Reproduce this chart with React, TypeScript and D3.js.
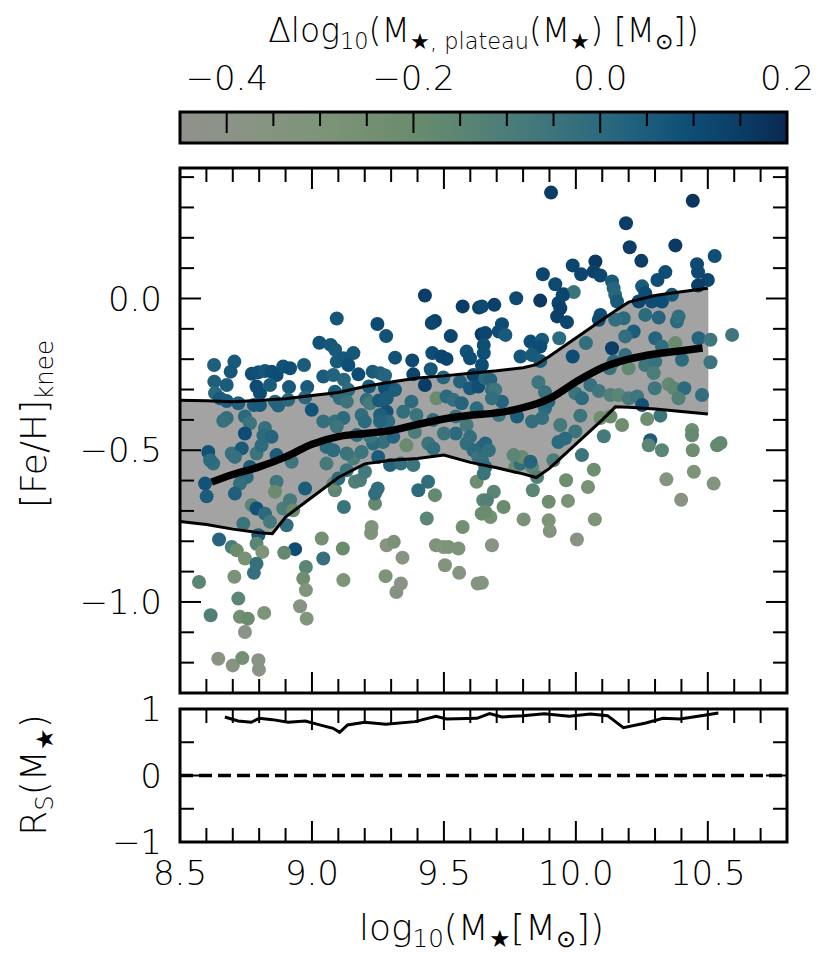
import React from 'react';
import * as d3 from 'd3';

// scatter: [log10 M*, [Fe/H]_knee, delta log10 M*,plateau]
const upperLeftPoints: [number, number, number][] = [
  [9.428, 0.01, 0.15], [9.571, -0.026, 0.15], [9.633, -0.03, 0.14], [9.094, -0.066, 0.07],
  [9.248, -0.084, 0.11], [9.281, -0.124, 0.08], [9.466, -0.074, 0.14], [9.454, -0.081, 0.12],
  [9.526, -0.124, 0.12], [9.643, -0.118, 0.16], [9.028, -0.146, 0.08], [9.071, -0.153, 0.07],
  [9.088, -0.169, 0.06], [9.157, -0.18, 0.07], [9.315, -0.195, 0.08], [9.38, -0.204, 0.11],
  [9.456, -0.18, 0.1], [9.491, -0.191, 0.12], [9.51, -0.199, 0.12], [9.586, -0.175, 0.08],
  [9.599, -0.197, 0.1], [8.706, -0.208, 0.06], [8.629, -0.219, 0.04], [8.692, -0.241, 0.07],
  [8.772, -0.248, 0.09], [8.797, -0.243, 0.08], [8.822, -0.239, 0.07], [8.847, -0.241, 0.09],
  [8.866, -0.252, 0.1], [8.891, -0.224, 0.08], [8.917, -0.23, 0.09], [8.97, -0.219, 0.05],
  [9.094, -0.208, 0.05], [9.119, -0.197, 0.07], [9.138, -0.219, 0.09], [9.176, -0.25, 0.1],
  [9.23, -0.241, 0.06], [9.258, -0.246, 0.04], [9.277, -0.254, 0.02], [9.384, -0.25, 0.12],
  [9.45, -0.233, 0.07], [9.498, -0.26, 0.02], [9.612, -0.252, 0.12], [8.63, -0.274, 0.04],
  [8.677, -0.285, 0.05], [8.79, -0.29, 0.1], [8.803, -0.312, 0.1], [8.841, -0.285, 0.05],
  [8.913, -0.292, 0.06], [8.982, -0.292, 0.06], [9.043, -0.257, 0.05], [9.081, -0.252, 0.03],
  [9.121, -0.268, 0.01], [9.216, -0.29, 0.06], [9.277, -0.296, 0.09], [9.308, -0.301, 0.1],
  [9.428, -0.285, 0.15], [9.561, -0.274, 0.03], [9.599, -0.296, 0.06], [9.63, -0.29, 0.09],
  [8.633, -0.312, 0.01], [8.652, -0.329, 0.06], [8.677, -0.338, 0.05], [8.721, -0.345, 0.04],
  [8.78, -0.351, 0.05], [8.803, -0.351, 0.06], [8.86, -0.34, 0.01], [8.872, -0.353, 0.03],
  [8.91, -0.334, 0.01], [8.974, -0.326, 0.01], [8.999, -0.367, 0.08], [9.087, -0.307, 0.05],
  [9.106, -0.329, -0.02], [9.138, -0.301, 0.0], [9.132, -0.34, -0.05], [9.207, -0.334, -0.02],
  [9.22, -0.345, -0.08], [9.254, -0.336, 0.06], [9.283, -0.329, 0.05], [9.315, -0.301, 0.05],
  [9.283, -0.373, 0.08], [9.258, -0.384, 0.04], [9.289, -0.405, 0.0], [9.377, -0.34, 0.0],
  [9.346, -0.373, -0.02], [9.472, -0.329, -0.2], [9.51, -0.323, 0.0], [9.536, -0.334, -0.02],
  [9.567, -0.345, 0.02], [9.624, -0.362, 0.0], [8.677, -0.394, -0.02], [8.664, -0.403, -0.03],
  [8.746, -0.389, 0.0], [8.765, -0.411, -0.05], [8.822, -0.427, -0.03], [9.043, -0.405, -0.02],
  [9.087, -0.405, -0.03], [9.119, -0.394, 0.0], [9.094, -0.422, -0.05], [9.188, -0.384, -0.02],
  [9.2, -0.405, 0.0], [9.258, -0.405, 0.02], [9.396, -0.384, -0.05], [9.459, -0.4, 0.0],
  [9.545, -0.389, -0.04], [9.586, -0.417, -0.08],
];

const upperRightPoints: [number, number, number][] = [
  [9.906, 0.349, 0.15], [10.443, 0.322, 0.17], [10.19, 0.248, 0.15], [10.204, 0.169, 0.15],
  [10.377, 0.175, 0.16], [10.526, 0.14, 0.09], [10.248, 0.124, 0.15], [10.459, 0.113, 0.11],
  [10.463, 0.087, 0.11], [10.5, 0.061, 0.12], [10.463, 0.043, 0.15], [9.988, 0.109, 0.12],
  [10.02, 0.08, 0.12], [10.074, 0.122, 0.16], [10.068, 0.089, 0.14], [10.093, 0.076, 0.12],
  [9.875, 0.08, 0.12], [9.922, 0.047, 0.11], [9.954, 0.014, 0.14], [9.992, 0.021, -0.05],
  [10.137, 0.056, 0.06], [10.143, 0.034, 0.02], [10.149, 0.012, 0.01], [10.156, -0.01, 0.06],
  [10.309, 0.061, 0.1], [10.339, 0.087, 0.1], [10.251, 0.04, 0.06], [10.238, -0.01, 0.12],
  [10.263, 0.017, 0.1], [10.288, -0.01, 0.1], [10.326, -0.01, 0.1], [10.364, 0.012, 0.06],
  [9.774, 0.001, 0.11], [9.691, -0.021, 0.14], [9.644, -0.026, 0.11], [9.865, -0.007, 0.16],
  [9.934, -0.015, 0.12], [9.95, 0.012, 0.12], [9.941, -0.032, 0.14], [9.929, -0.059, 0.14],
  [9.966, -0.078, 0.12], [10.093, -0.054, 0.09], [10.087, -0.07, 0.1], [10.181, -0.065, 0.0],
  [10.149, -0.07, -0.02], [10.263, -0.054, 0.0], [10.314, -0.063, 0.02], [10.383, -0.076, 0.0],
  [10.389, -0.059, -0.02], [9.72, -0.085, 0.1], [9.708, -0.109, 0.1], [9.733, -0.12, 0.06],
  [9.657, -0.114, 0.12], [9.651, -0.153, 0.09], [9.651, -0.18, 0.09], [9.644, -0.219, 0.1],
  [9.828, -0.142, 0.1], [9.847, -0.164, 0.09], [9.872, -0.136, 0.06], [9.865, -0.158, 0.1],
  [9.79, -0.191, 0.07], [9.834, -0.186, 0.06], [9.865, -0.206, 0.05], [9.937, -0.131, 0.0],
  [9.988, -0.191, 0.1], [10.038, -0.147, -0.02], [10.137, -0.164, 0.15], [10.219, -0.109, 0.05],
  [10.187, -0.125, -0.02], [10.301, -0.131, 0.02], [10.326, -0.158, -0.02], [10.377, -0.147, -0.2],
  [10.465, -0.131, 0.02], [10.51, -0.136, -0.06], [10.592, -0.12, -0.06], [10.187, -0.186, -0.02],
  [10.143, -0.208, 0.0], [10.128, -0.23, -0.04], [10.2, -0.23, -0.18], [10.263, -0.219, -0.06],
  [10.301, -0.208, -0.04], [10.295, -0.246, -0.1], [10.402, -0.202, 0.0], [10.51, -0.21, -0.05],
  [9.657, -0.263, 0.0], [9.676, -0.268, 0.02], [9.682, -0.301, -0.02], [9.695, -0.301, -0.06],
  [9.72, -0.34, 0.02], [9.858, -0.276, -0.06], [9.883, -0.309, -0.04], [9.998, -0.312, -0.05],
  [10.023, -0.329, 0.0], [10.055, -0.285, -0.03], [10.087, -0.305, -0.06], [10.131, -0.318, -0.12],
  [10.162, -0.318, -0.15], [10.2, -0.329, -0.08], [10.232, -0.323, -0.06], [10.299, -0.296, -0.06],
  [10.352, -0.283, -0.18], [10.371, -0.296, -0.16], [10.411, -0.296, 0.0], [10.478, -0.318, -0.02],
  [10.389, -0.329, -0.12], [10.251, -0.351, 0.08], [10.32, -0.386, -0.05], [10.017, -0.386, -0.05],
  [10.093, -0.394, -0.22], [10.131, -0.389, -0.2], [10.175, -0.417, -0.22], [10.27, -0.397, -0.22],
  [9.883, -0.362, 0.0], [9.896, -0.34, 0.02], [9.872, -0.394, -0.02], [9.777, -0.389, 0.05],
  [9.834, -0.405, -0.02], [9.941, -0.417, -0.08], [9.998, -0.438, -0.05], [9.682, -0.329, -0.02],
  [9.708, -0.384, -0.06], [10.44, -0.433, -0.22],
];

const lowerLeftPoints: [number, number, number][] = [
  [8.607, -0.506, 0.08], [8.626, -0.544, -0.02], [8.614, -0.533, 0.0], [8.595, -0.61, 0.08],
  [8.601, -0.652, 0.05], [8.696, -0.511, -0.03], [8.734, -0.494, 0.06], [8.708, -0.522, -0.03],
  [8.746, -0.445, 0.1], [8.816, -0.451, 0.0], [8.847, -0.456, 0.02], [8.79, -0.511, -0.05],
  [8.809, -0.484, 0.0], [8.866, -0.516, 0.05], [8.923, -0.538, -0.06], [8.765, -0.555, 0.05],
  [8.753, -0.588, 0.0], [8.727, -0.61, -0.02], [8.708, -0.643, 0.04], [8.866, -0.604, -0.06],
  [8.86, -0.637, -0.2], [8.772, -0.681, -0.15], [8.79, -0.692, 0.08], [8.822, -0.709, 0.0],
  [8.74, -0.742, -0.05], [8.841, -0.736, -0.08], [8.891, -0.692, -0.1], [8.917, -0.665, -0.08],
  [8.929, -0.698, -0.2], [8.904, -0.747, -0.02], [8.797, -0.78, 0.05], [8.79, -0.808, -0.15],
  [8.648, -0.794, 0.02], [8.696, -0.819, -0.1], [8.715, -0.83, -0.2], [8.746, -0.857, -0.27],
  [8.812, -0.835, -0.3], [8.79, -0.874, -0.03], [8.78, -0.904, -0.03], [8.936, -0.826, 0.1],
  [8.895, -0.838, -0.18], [8.977, -0.885, -0.15], [8.967, -0.923, -0.22], [8.977, -0.961, -0.32],
  [8.955, -1.014, -0.37], [8.98, -1.055, -0.32], [9.043, -0.857, -0.03], [9.037, -0.791, -0.25],
  [9.117, -0.824, -0.2], [9.119, -0.928, -0.3], [9.121, -0.687, -0.05], [8.974, -0.626, 0.05],
  [8.572, -0.934, -0.15], [8.616, -1.044, -0.12], [8.706, -0.917, -0.28], [8.721, -0.989, -0.15],
  [8.727, -1.049, -0.25], [8.757, -1.055, -0.2], [8.819, -1.036, -0.3], [8.746, -1.099, -0.4],
  [8.645, -1.187, -0.38], [8.7, -1.209, -0.38], [8.736, -1.185, -0.25], [8.797, -1.192, -0.38],
  [8.799, -1.223, -0.4], [9.226, -0.753, -0.32], [9.224, -0.773, -0.3], [9.239, -0.676, -0.18],
  [9.249, -0.626, -0.02], [9.239, -0.643, -0.02], [9.283, -0.813, -0.38], [9.31, -0.802, -0.28],
  [9.343, -0.854, -0.38], [9.279, -0.915, -0.3], [9.32, -0.967, -0.35], [9.337, -0.939, -0.4],
  [9.435, -0.725, -0.15], [9.403, -0.632, 0.0], [9.44, -0.604, -0.02], [9.466, -0.648, -0.18],
  [9.47, -0.813, -0.3], [9.498, -0.819, -0.35], [9.517, -0.819, -0.3], [9.555, -0.824, -0.3],
  [9.504, -0.879, -0.33], [9.558, -0.904, -0.35], [9.571, -0.753, -0.25], [9.628, -0.939, -0.35],
  [9.643, -0.709, -0.2], [9.649, -0.665, -0.15], [9.624, -0.604, -0.22], [9.087, -0.632, -0.15],
  [9.081, -0.61, -0.2], [9.163, -0.604, -0.12], [9.182, -0.599, -0.1], [9.1, -0.593, 0.0],
  [9.132, -0.566, -0.05], [9.055, -0.544, -0.08], [9.201, -0.571, -0.08], [9.296, -0.549, 0.02],
  [9.337, -0.544, -0.02], [9.384, -0.549, -0.05], [9.157, -0.527, -0.1], [9.188, -0.506, -0.05],
  [9.251, -0.522, 0.05], [9.358, -0.484, -0.2], [9.27, -0.473, -0.03], [9.232, -0.478, 0.0],
  [9.308, -0.456, 0.02], [9.055, -0.489, 0.0], [9.081, -0.5, 0.0], [9.132, -0.511, -0.05],
  [9.441, -0.478, -0.05], [9.46, -0.494, -0.02], [9.586, -0.478, -0.02], [9.612, -0.5, 0.0],
  [9.63, -0.522, -0.05], [9.545, -0.445, 0.0], [9.599, -0.456, -0.02], [9.17, -0.45, 0.0],
  [9.22, -0.455, -0.05], [9.39, -0.44, -0.1], [9.5, -0.445, -0.05],
];

const lowerRightPoints: [number, number, number][] = [
  [9.644, -0.533, -0.03], [9.657, -0.555, 0.0], [9.651, -0.577, -0.05], [9.644, -0.489, 0.0],
  [9.657, -0.478, 0.02], [9.67, -0.5, -0.02], [9.689, -0.637, -0.15], [9.663, -0.665, -0.12],
  [9.676, -0.72, -0.25], [9.657, -0.703, -0.2], [9.726, -0.687, -0.2], [9.682, -0.813, -0.38],
  [9.644, -0.937, -0.35], [9.771, -0.555, -0.2], [9.79, -0.544, -0.02], [9.834, -0.555, -0.15],
  [9.853, -0.588, -0.12], [9.796, -0.522, -0.2], [9.764, -0.516, -0.15], [9.828, -0.538, 0.02],
  [9.837, -0.632, -0.15], [9.802, -0.728, -0.28], [9.897, -0.67, -0.22], [9.897, -0.731, -0.3],
  [9.901, -0.766, -0.33], [9.915, -0.533, -0.1], [9.963, -0.599, -0.22], [9.97, -0.667, -0.28],
  [10.004, -0.794, -0.38], [10.023, -0.516, -0.05], [10.046, -0.621, -0.27], [10.068, -0.564, -0.22],
  [10.072, -0.728, -0.3], [10.106, -0.454, -0.08], [9.934, -0.473, 0.0], [9.959, -0.461, 0.0],
  [10.282, -0.467, 0.05], [10.276, -0.484, -0.15], [10.326, -0.5, -0.15], [10.343, -0.596, -0.35],
  [10.399, -0.663, -0.38], [10.44, -0.451, -0.18], [10.443, -0.5, -0.22], [10.447, -0.571, -0.3],
  [10.522, -0.61, -0.33], [10.535, -0.484, -0.18], [10.548, -0.476, -0.18],
];

// 16-84 percentile band and running median
const bandMass = [8.5, 8.6, 8.7, 8.8, 8.85, 8.9, 9.0, 9.1, 9.2, 9.3, 9.4, 9.5, 9.6, 9.7, 9.8, 9.85, 9.9, 10.0, 10.1, 10.15, 10.2, 10.3, 10.4, 10.5];
const bandUpper = [-0.335, -0.337, -0.34, -0.336, -0.333, -0.33, -0.32, -0.31, -0.29, -0.275, -0.262, -0.255, -0.246, -0.238, -0.228, -0.218, -0.19, -0.13, -0.07, -0.04, -0.012, 0.01, 0.022, 0.034];
const bandLower = [-0.735, -0.745, -0.76, -0.772, -0.775, -0.72, -0.655, -0.59, -0.545, -0.533, -0.527, -0.516, -0.54, -0.558, -0.578, -0.59, -0.56, -0.48, -0.4, -0.357, -0.358, -0.364, -0.372, -0.381];
const medianMass = [8.62, 8.7, 8.8, 8.9, 9.0, 9.1, 9.2, 9.3, 9.4, 9.5, 9.6, 9.7, 9.8, 9.9, 10.0, 10.1, 10.2, 10.3, 10.4, 10.48];
const medianFeH = [-0.605, -0.58, -0.555, -0.522, -0.48, -0.455, -0.445, -0.435, -0.415, -0.397, -0.385, -0.377, -0.36, -0.33, -0.275, -0.228, -0.2, -0.183, -0.172, -0.163];

// Spearman coefficient
const rsMass = [8.67, 8.72, 8.77, 8.8, 8.85, 8.91, 8.975, 9.04, 9.08, 9.105, 9.135, 9.2, 9.28, 9.39, 9.47, 9.51, 9.625, 9.673, 9.72, 9.8, 9.88, 9.975, 10.055, 10.12, 10.18, 10.265, 10.33, 10.395, 10.475, 10.54];
const rsValue = [0.88, 0.82, 0.8, 0.86, 0.84, 0.8, 0.82, 0.75, 0.71, 0.65, 0.76, 0.8, 0.77, 0.81, 0.89, 0.85, 0.86, 0.93, 0.88, 0.9, 0.93, 0.89, 0.925, 0.9, 0.72, 0.79, 0.86, 0.85, 0.9, 0.94];

const cmapValues = [-0.45, -0.4, -0.3, -0.2, -0.1, 0.0, 0.05, 0.1, 0.15, 0.2];
const cmapColors = ['#8f918b', '#8b9387', '#7e9479', '#6a8c6d', '#4c7d7a', '#2c6a7e', '#1c5c7b', '#0d4c74', '#0b3d66', '#0b2850'];

const FONT = "'DejaVu Sans', 'Noto Sans', sans-serif";

const left = 180, right = 787;
const mainTop = 168, mainBottom = 693;
const rsTop = 709, rsBottom = 842;
const cbTop = 112, cbBottom = 143;

type Part = [string, boolean?];

const Rich: React.FC<{ parts: Part[]; size: number } & React.SVGProps<SVGTextElement>> = ({ parts, size, ...rest }) => {
  let shift = 0;
  return (
    <text fontFamily={FONT} fontWeight={200} {...rest}>
      {parts.map(([t, sub], i) => {
        const target = sub ? size * 0.2 : 0;
        const dy = target - shift;
        shift = target;
        return (
          <tspan key={i} dy={dy} fontSize={sub ? size * 0.68 : size}>{t}</tspan>
        );
      })}
    </text>
  );
};

export default function App() {
  const x = d3.scaleLinear().domain([8.5, 10.8]).range([left, right]);
  const y = d3.scaleLinear().domain([-1.3, 0.43]).range([mainBottom, mainTop]);
  const yR = d3.scaleLinear().domain([-1, 1]).range([rsBottom, rsTop]);
  const cx = d3.scaleLinear().domain([-0.45, 0.2]).range([left, right]);
  const color = d3.scaleLinear<string>().domain(cmapValues).range(cmapColors).interpolate(d3.interpolateRgb).clamp(true);

  const fmt1 = d3.format('.1f');
  const fmt0 = d3.format('d');

  const xMajor = x.ticks(5);
  const xMinor = x.ticks(23);
  const yMajor = y.ticks(4);
  const yMinor = y.ticks(17);
  const rMajor = yR.ticks(2);
  const rMinor = yR.ticks(4);
  const cMajor = cx.ticks(3);
  const cMinor = cx.ticks(13);

  const points = [...upperLeftPoints, ...upperRightPoints, ...lowerLeftPoints, ...lowerRightPoints];

  const area = d3.area<number>()
    .x((_, i) => x(bandMass[i]))
    .y0((_, i) => y(bandLower[i]))
    .y1((d) => y(d));
  const edgeLine = d3.line<number>().x((_, i) => x(bandMass[i])).y((d) => y(d));
  const medLine = d3.line<number>().x((_, i) => x(medianMass[i])).y((d) => y(d)).curve(d3.curveMonotoneX);
  const rsLine = d3.line<number>().x((_, i) => x(rsMass[i])).y((d) => yR(d));

  const MAJ = 21, MIN = 14;

  const xTicks = (top: number, bottom: number) => (
    <g stroke="#000" strokeWidth={2}>
      {xMinor.map((t) => {
        const len = xMajor.some((m) => Math.abs(m - t) < 1e-6) ? MAJ : MIN;
        return (
          <g key={t}>
            <line x1={x(t)} x2={x(t)} y1={bottom} y2={bottom - len} />
            <line x1={x(t)} x2={x(t)} y1={top} y2={top + len} />
          </g>
        );
      })}
    </g>
  );

  const yTicks = (scale: d3.ScaleLinear<number, number>, minor: number[], major: number[]) => (
    <g stroke="#000" strokeWidth={2}>
      {minor.map((t) => {
        const len = major.some((m) => Math.abs(m - t) < 1e-6) ? MAJ : MIN;
        return (
          <g key={t}>
            <line x1={left} x2={left + len} y1={scale(t)} y2={scale(t)} />
            <line x1={right} x2={right - len} y1={scale(t)} y2={scale(t)} />
          </g>
        );
      })}
    </g>
  );

  return (
    <svg width={831} height={964} style={{ position: 'absolute', left: 0, top: 0, background: '#fff' }}>
      <defs>
        <linearGradient id="cmap" x1="0" x2="1" y1="0" y2="0">
          {cmapValues.map((v, i) => (
            <stop key={v} offset={(cx(v) - left) / (right - left)} stopColor={cmapColors[i]} />
          ))}
        </linearGradient>
        <clipPath id="mainClip">
          <rect x={left} y={mainTop} width={right - left} height={mainBottom - mainTop} />
        </clipPath>
      </defs>

      {/* colorbar */}
      <Rich
        parts={[['Δlog'], ['10', true], ['(M'], ['★, plateau', true], ['(M'], ['★', true], [') [M'], ['⊙', true], ['])']]}
        size={33}
        x={(left + right) / 2}
        y={42}
        textAnchor="middle"
      />
      <rect x={left} y={cbTop} width={right - left} height={cbBottom - cbTop} fill="url(#cmap)" />
      <g stroke="#000" strokeWidth={2}>
        {cMinor.map((t) => {
          const len = cMajor.some((m) => Math.abs(m - t) < 1e-6) ? MAJ : MIN;
          return <line key={t} x1={cx(t)} x2={cx(t)} y1={cbTop} y2={cbTop + len} />;
        })}
      </g>
      <rect x={left} y={cbTop} width={right - left} height={cbBottom - cbTop} fill="none" stroke="#000" strokeWidth={3} />
      {cMajor.map((t) => (
        <text key={t} x={cx(t)} y={90} textAnchor="middle" fontFamily={FONT} fontWeight={200} fontSize={34}>
          {fmt1(t)}
        </text>
      ))}

      {/* main panel */}
      <g clipPath="url(#mainClip)">
        <path d={area(bandUpper) ?? ''} fill="#a3a3a3" stroke="#999" strokeWidth={1} />
        {points.map(([m, f, d], i) => (
          <circle key={i} cx={x(m)} cy={y(f)} r={7} fill={color(d)} />
        ))}
        <path d={edgeLine(bandUpper) ?? ''} fill="none" stroke="#000" strokeWidth={3} />
        <path d={edgeLine(bandLower) ?? ''} fill="none" stroke="#000" strokeWidth={3} />
        <path d={medLine(medianFeH) ?? ''} fill="none" stroke="#000" strokeWidth={7.5} />
      </g>
      {xTicks(mainTop, mainBottom)}
      {yTicks(y, yMinor, yMajor)}
      <rect x={left} y={mainTop} width={right - left} height={mainBottom - mainTop} fill="none" stroke="#000" strokeWidth={3} />
      {yMajor.map((t) => (
        <text key={t} x={162} y={y(t)} dy="0.36em" textAnchor="end" fontFamily={FONT} fontWeight={200} fontSize={34}>
          {fmt1(t)}
        </text>
      ))}
      <Rich parts={[['[Fe/H]'], ['knee', true]]} size={36} transform="translate(46,424) rotate(-90)" textAnchor="middle" />

      {/* Spearman panel */}
      <line x1={left} x2={right} y1={yR(0)} y2={yR(0)} stroke="#000" strokeWidth={3.5} strokeDasharray="13 6" />
      <path d={rsLine(rsValue) ?? ''} fill="none" stroke="#000" strokeWidth={3} />
      {xTicks(rsTop, rsBottom)}
      {yTicks(yR, rMinor, rMajor)}
      <rect x={left} y={rsTop} width={right - left} height={rsBottom - rsTop} fill="none" stroke="#000" strokeWidth={3} />
      {rMajor.map((t) => (
        <text key={t} x={162} y={yR(t)} dy="0.36em" textAnchor="end" fontFamily={FONT} fontWeight={200} fontSize={34}>
          {fmt0(t)}
        </text>
      ))}
      <Rich parts={[['R'], ['S', true], ['(M'], ['★', true], [')']]} size={36} transform="translate(46,775) rotate(-90)" textAnchor="middle" />

      {xMajor.map((t) => (
        <text key={t} x={x(t)} y={885} textAnchor="middle" fontFamily={FONT} fontWeight={200} fontSize={34}>
          {fmt1(t)}
        </text>
      ))}
      <Rich
        parts={[['log'], ['10', true], ['(M'], ['★', true], ['[M'], ['⊙', true], ['])']]}
        size={36}
        x={(left + right) / 2 - 2}
        y={940}
        textAnchor="middle"
      />
    </svg>
  );
}
